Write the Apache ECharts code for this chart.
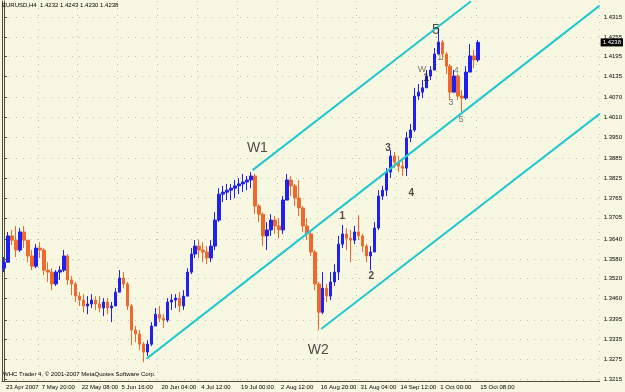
<!DOCTYPE html>
<html>
<head>
<meta charset="utf-8">
<script src="https://cdn.jsdelivr.net/npm/echarts@6/dist/echarts.min.js"></script>
<style>
  html, body { margin: 0; padding: 0; background: #f8f8e2; }
  #chart { width: 625px; height: 392px; }
</style>
</head>
<body>
<div id="chart"></div>
<script>
// EURUSD H4, 23 Apr 2007 - 18 Oct 2007, each candle groups ~8 H4 bars
// [open, close, low, high]
const candles = [
  [1.3552, 1.3570, 1.3540, 1.3586], [1.3570, 1.3650, 1.3570, 1.3662], [1.3650, 1.3637, 1.3622, 1.3668],
  [1.3637, 1.3607, 1.3586, 1.3680], [1.3607, 1.3662, 1.3601, 1.3674], [1.3662, 1.3637, 1.3613, 1.3680],
  [1.3637, 1.3589, 1.3570, 1.3625], [1.3589, 1.3558, 1.3546, 1.3607], [1.3558, 1.3613, 1.3552, 1.3625],
  [1.3613, 1.3607, 1.3583, 1.3631], [1.3607, 1.3546, 1.3531, 1.3613], [1.3546, 1.3540, 1.3510, 1.3570],
  [1.3540, 1.3504, 1.3485, 1.3552], [1.3504, 1.3540, 1.3498, 1.3546], [1.3540, 1.3546, 1.3516, 1.3558],
  [1.3546, 1.3589, 1.3540, 1.3607], [1.3589, 1.3516, 1.3501, 1.3595], [1.3516, 1.3504, 1.3470, 1.3528],
  [1.3504, 1.3467, 1.3449, 1.3510], [1.3467, 1.3455, 1.3437, 1.3479], [1.3455, 1.3437, 1.3418, 1.3473],
  [1.3437, 1.3443, 1.3412, 1.3467], [1.3443, 1.3455, 1.3431, 1.3473], [1.3455, 1.3443, 1.3425, 1.3467],
  [1.3443, 1.3431, 1.3418, 1.3467], [1.3431, 1.3449, 1.3406, 1.3461], [1.3449, 1.3431, 1.3412, 1.3461],
  [1.3431, 1.3437, 1.3388, 1.3449], [1.3437, 1.3479, 1.3437, 1.3491], [1.3479, 1.3522, 1.3479, 1.3546],
  [1.3522, 1.3504, 1.3491, 1.3540], [1.3504, 1.3437, 1.3425, 1.3510], [1.3437, 1.3364, 1.3318, 1.3443],
  [1.3364, 1.3352, 1.3327, 1.3376], [1.3352, 1.3321, 1.3303, 1.3364], [1.3321, 1.3297, 1.3266, 1.3327],
  [1.3297, 1.3321, 1.3285, 1.3333], [1.3321, 1.3376, 1.3315, 1.3388], [1.3376, 1.3412, 1.3376, 1.3431],
  [1.3412, 1.3400, 1.3388, 1.3437], [1.3400, 1.3394, 1.3370, 1.3412], [1.3394, 1.3449, 1.3388, 1.3461],
  [1.3449, 1.3455, 1.3425, 1.3473], [1.3455, 1.3461, 1.3431, 1.3473], [1.3461, 1.3437, 1.3418, 1.3479],
  [1.3437, 1.3467, 1.3425, 1.3485], [1.3467, 1.3540, 1.3467, 1.3552], [1.3540, 1.3595, 1.3534, 1.3613],
  [1.3595, 1.3619, 1.3583, 1.3637], [1.3619, 1.3607, 1.3583, 1.3637], [1.3607, 1.3601, 1.3570, 1.3631],
  [1.3601, 1.3583, 1.3564, 1.3619], [1.3583, 1.3619, 1.3570, 1.3637], [1.3619, 1.3698, 1.3607, 1.3722],
  [1.3698, 1.3777, 1.3692, 1.3795], [1.3777, 1.3783, 1.3753, 1.3802], [1.3783, 1.3789, 1.3759, 1.3808],
  [1.3789, 1.3795, 1.3759, 1.3808], [1.3795, 1.3802, 1.3765, 1.3820], [1.3802, 1.3808, 1.3777, 1.3826],
  [1.3808, 1.3814, 1.3783, 1.3838], [1.3814, 1.3820, 1.3789, 1.3832], [1.3820, 1.3832, 1.3795, 1.3844],
  [1.3832, 1.3741, 1.3716, 1.3838], [1.3741, 1.3716, 1.3692, 1.3747], [1.3716, 1.3650, 1.3619, 1.3722],
  [1.3650, 1.3668, 1.3607, 1.3692], [1.3668, 1.3698, 1.3650, 1.3716], [1.3698, 1.3680, 1.3656, 1.3710],
  [1.3680, 1.3668, 1.3643, 1.3704], [1.3668, 1.3759, 1.3656, 1.3771], [1.3759, 1.3820, 1.3759, 1.3838],
  [1.3820, 1.3802, 1.3771, 1.3832], [1.3802, 1.3765, 1.3741, 1.3808], [1.3765, 1.3735, 1.3710, 1.3820],
  [1.3735, 1.3680, 1.3662, 1.3741], [1.3680, 1.3656, 1.3637, 1.3704], [1.3656, 1.3601, 1.3589, 1.3662],
  [1.3601, 1.3504, 1.3485, 1.3607], [1.3504, 1.3418, 1.3364, 1.3510], [1.3418, 1.3491, 1.3412, 1.3540],
  [1.3491, 1.3467, 1.3449, 1.3504], [1.3467, 1.3510, 1.3455, 1.3540], [1.3510, 1.3540, 1.3498, 1.3564],
  [1.3540, 1.3625, 1.3516, 1.3650], [1.3625, 1.3656, 1.3613, 1.3683], [1.3656, 1.3643, 1.3607, 1.3674],
  [1.3643, 1.3637, 1.3570, 1.3668], [1.3637, 1.3662, 1.3625, 1.3680], [1.3662, 1.3650, 1.3637, 1.3713],
  [1.3650, 1.3619, 1.3601, 1.3656], [1.3619, 1.3589, 1.3570, 1.3625], [1.3589, 1.3601, 1.3546, 1.3619],
  [1.3601, 1.3674, 1.3601, 1.3692], [1.3674, 1.3771, 1.3668, 1.3789], [1.3771, 1.3789, 1.3759, 1.3802],
  [1.3789, 1.3844, 1.3771, 1.3856], [1.3844, 1.3893, 1.3826, 1.3911], [1.3893, 1.3874, 1.3856, 1.3905],
  [1.3874, 1.3862, 1.3844, 1.3893], [1.3862, 1.3856, 1.3832, 1.3887], [1.3856, 1.3948, 1.3832, 1.3966],
  [1.3948, 1.3972, 1.3935, 1.3990], [1.3972, 1.4075, 1.3966, 1.4100], [1.4075, 1.4087, 1.4063, 1.4112],
  [1.4087, 1.4100, 1.4069, 1.4124], [1.4100, 1.4136, 1.4106, 1.4154], [1.4136, 1.4154, 1.4124, 1.4166],
  [1.4154, 1.4203, 1.4154, 1.4221], [1.4203, 1.4239, 1.4209, 1.4282], [1.4239, 1.4203, 1.4185, 1.4245],
  [1.4203, 1.4166, 1.4142, 1.4209], [1.4166, 1.4087, 1.4063, 1.4172], [1.4087, 1.4136, 1.4087, 1.4154],
  [1.4136, 1.4075, 1.4063, 1.4142], [1.4075, 1.4069, 1.4020, 1.4093], [1.4069, 1.4148, 1.4063, 1.4166],
  [1.4148, 1.4197, 1.4148, 1.4233], [1.4197, 1.4185, 1.4160, 1.4215], [1.4185, 1.4238, 1.4179, 1.4245]
];

const slotCount = 150; // candles + empty space on the right (chart shift)
const dateTickIndex = [0, 9, 19, 29, 39, 49, 59, 69, 79, 89, 99, 109, 119];
const dateLabels = ['23 Apr 2007', '7 May 20:00', '22 May 08:00', '5 Jun 16:00', '20 Jun 04:00',
  '4 Jul 12:00', '19 Jul 00:00', '2 Aug 12:00', '16 Aug 20:00', '31 Aug 04:00',
  '14 Sep 12:00', '1 Oct 00:00', '15 Oct 08:00'];
const priceLabels = ['1.3215', '1.3275', '1.3335', '1.3395', '1.3460', '1.3520', '1.3580',
  '1.3640', '1.3705', '1.3765', '1.3825', '1.3885', '1.3950', '1.4010', '1.4070',
  '1.4135', '1.4195', '1.4255', '1.4315'];
const lastPrice = '1.4238';

// channel lines: [start, end] as [candle index, price]
const channelLines = [
  [[35.8, 1.3277], [149.5, 1.4350]],
  [[62.4, 1.3850], [117.2, 1.4363]],
  [[79.6, 1.3367], [149.5, 1.4021]]
];
// wave labels: [candle index, price, text]
const bigLabels = [[63.6, 1.3917, 'W1'], [78.9, 1.3303, 'W2'], [108.4, 1.4276, '5']];
const countLabels = [[84.9, 1.3710, '1'], [92.2, 1.3528, '2'], [96.4, 1.3917, '3'],
  [102.2, 1.3780, '4'], [106.0, 1.4130, '1']];
const minorLabels = [[104.9, 1.4157, 'W'], [109.4, 1.4191, '1'], [112.2, 1.4054, '3'],
  [113.5, 1.4154, '4'], [114.7, 1.4005, '5']];

const categories = [];
for (let i = 0; i < slotCount; i++) {
  const k = dateTickIndex.indexOf(i);
  categories.push(k >= 0 ? dateLabels[k] : '');
}
const isTick = i => dateTickIndex.indexOf(i) >= 0;

const font = 'Liberation Sans, Arial, sans-serif';
const gridDots = { color: '#b9c7b0', width: 1, type: [1, 6] };

function textSeries(list, size, weight, color) {
  return {
    type: 'scatter',
    xAxisIndex: 1,
    symbolSize: 1,
    itemStyle: { color: 'transparent' },
    silent: true,
    z: 5,
    label: {
      show: true,
      position: 'inside',
      fontFamily: font,
      fontSize: size,
      fontWeight: weight,
      color: color,
      formatter: p => p.data[2]
    },
    data: list
  };
}

const chart = echarts.init(document.getElementById('chart'));
chart.setOption({
  animation: false,
  backgroundColor: '#f8f8e2',
  title: [
    {
      text: 'EURUSD,H4  1.4232 1.4243 1.4230 1.4238',
      left: 2, top: 2, padding: 0,
      textStyle: { fontFamily: font, fontSize: 6, fontWeight: 'normal', color: '#000' }
    },
    {
      text: 'WHC Trader 4, © 2001-2007 MetaQuotes Software Corp.',
      left: 3, top: 371, padding: 0,
      textStyle: { fontFamily: font, fontSize: 6, fontWeight: 'normal', color: '#000' }
    }
  ],
  grid: { left: 2, right: 24, top: 1, bottom: 11 },
  xAxis: [
    {
      type: 'category',
      data: categories,
      boundaryGap: true,
      axisLine: { lineStyle: { color: '#4d4d40', width: 1 } },
      axisTick: { interval: isTick, length: 3, alignWithLabel: true, lineStyle: { color: '#4d4d40' } },
      axisLabel: {
        interval: isTick, align: 'left', margin: 3, padding: [0, 0, 0, 2],
        fontFamily: font, fontSize: 6, color: '#000'
      },
      splitLine: { show: true, interval: isTick, lineStyle: gridDots }
    },
    { type: 'value', min: -0.5, max: slotCount - 0.5, show: false }
  ],
  yAxis: [
    {
      type: 'value',
      position: 'right',
      min: 1.3209,
      max: 1.4364,
      axisLine: { show: true, lineStyle: { color: '#4d4d40', width: 1 } },
      axisTick: { show: true, length: 3, customValues: priceLabels.map(Number), lineStyle: { color: '#4d4d40' } },
      axisLabel: {
        customValues: priceLabels.map(Number),
        formatter: v => v.toFixed(4),
        margin: 4, fontFamily: font, fontSize: 6, color: '#000'
      },
      splitLine: { show: true, lineStyle: gridDots }
    },
    {
      type: 'value', position: 'left', min: 1.3209, max: 1.4364,
      axisLine: { show: true, lineStyle: { color: '#4d4d40', width: 1 } },
      axisTick: { show: false }, axisLabel: { show: false }, splitLine: { show: false }
    }
  ],
  series: [
    {
      type: 'candlestick',
      data: candles.map(c => [c[0], c[1], c[2], c[3]]),
      barWidth: 3,
      itemStyle: {
        color: '#2020f0', color0: '#f0692c',
        borderColor: '#2020f0', borderColor0: '#f0692c', borderWidth: 1
      }
    },
    ...channelLines.map(seg => ({
      type: 'line',
      xAxisIndex: 1,
      data: seg,
      symbol: 'none',
      silent: true,
      z: 3,
      lineStyle: { color: '#22c8d0', width: 2 }
    })),
    textSeries(bigLabels, 14, 'normal', '#222'),
    textSeries(countLabels, 10, 'bold', '#222'),
    textSeries(minorLabels, 9, 'normal', '#555')
  ]
});

// current price tag on the price scale
const tagY = chart.convertToPixel({ yAxisIndex: 0 }, Number(lastPrice));
const tagX = chart.convertToPixel({ xAxisIndex: 1 }, slotCount - 0.5);
chart.setOption({
  graphic: [{
    type: 'text',
    x: tagX + 1,
    y: tagY,
    z: 100,
    style: {
      text: lastPrice,
      fill: '#fff',
      backgroundColor: '#000',
      padding: [1, 2],
      font: '6px ' + font,
      verticalAlign: 'middle'
    }
  }]
});
</script>
</body>
</html>
